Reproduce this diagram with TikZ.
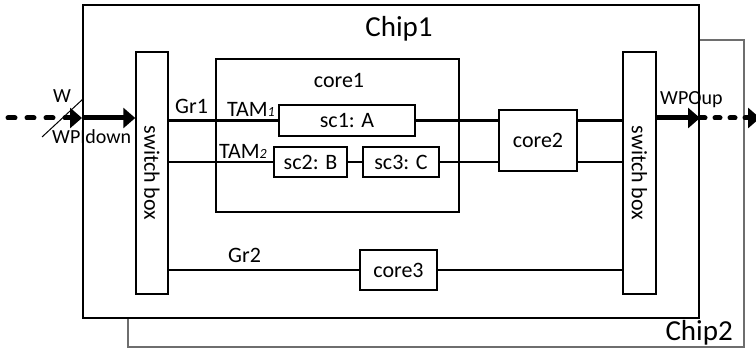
\documentclass[tikz,border=0pt]{standalone}
\usepackage{fontspec}
\setmainfont{Carlito}
\usetikzlibrary{arrows.meta}
\definecolor{chipgray}{RGB}{110,110,110}
\tikzset{
  boxsty/.style={draw=black, line width=1.5pt, fill=white, inner sep=0pt, rectangle},
  chipone/.style={draw=black, line width=2pt, fill=white, inner sep=0pt, rectangle},
  chiptwo/.style={draw=chipgray, line width=2pt, fill=white, inner sep=0pt, rectangle},
  wire/.style={line width=2.4pt, line cap=rect},
  txt/.style={inner sep=0pt, font=\fontsize{22}{26}\selectfont},
  bigtxt/.style={inner sep=0pt, font=\fontsize{29}{33}\selectfont},
  smalltxt/.style={inner sep=0pt, font=\fontsize{20}{24}\selectfont},
  fatarrow/.style={line width=5pt, -{Triangle[length=12pt,width=20pt]}},
  dasharrow/.style={line width=5pt, line cap=round, -{Triangle[length=12pt,width=20pt]}},
}
\begin{document}
\begin{tikzpicture}[x=1pt, y=-1pt]
\useasboundingbox (0,0) rectangle (756,352);
% chips
\node[chiptwo, minimum width=616pt, minimum height=307pt] (chip2) at (436,193.5) {};
\node[chipone, minimum width=616pt, minimum height=313pt] (chip1) at (391,161.5) {};
\node[bigtxt, anchor=base] (chip1lbl) at (399,37) {Chip1};
\node[bigtxt, anchor=base east] (chip2lbl) at (733,341) {Chip2};
% switch boxes
\node[boxsty, minimum width=32pt, minimum height=242pt] (sw1) at (152,173) {};
\node[boxsty, minimum width=33pt, minimum height=242pt] (sw2) at (639.5,173) {};
\node[txt, rotate=-90] (sw1lbl) at (sw1.center) {switch box};
\node[txt, rotate=-90] (sw2lbl) at (sw2.center) {switch box};
% core1
\node[boxsty, minimum width=243pt, minimum height=153pt] (core1) at (337.5,135.5) {};
\node[txt, anchor=base] (core1lbl) at (339,88) {core1};
% inner boxes
\node[boxsty, minimum width=136pt, minimum height=31pt] (sc1) at (347,120.5) {};
\node[boxsty, minimum width=73pt, minimum height=30pt] (sc2) at (310.5,162) {};
\node[boxsty, minimum width=76pt, minimum height=30pt] (sc3) at (401,162) {};
\node[boxsty, minimum width=78pt, minimum height=61pt] (core2) at (538,140.5) {};
\node[boxsty, minimum width=77pt, minimum height=40pt] (core3) at (398.5,270) {};
% wires
\draw[wire] (sw1.east |- sc1.west) -- (sc1.west);
\draw[wire] (sc1.east) -- (sc1.east -| core2.west);
\draw[wire] (core2.east |- sc1.east) -- (sw2.west |- sc1.east);
\draw[wire] (sw1.east |- sc2.west) -- (sc2.west);
\draw[wire] (sc2.east) -- (sc3.west);
\draw[wire] (sc3.east) -- (sc3.east -| core2.west);
\draw[wire] (core2.east |- sc3.east) -- (sw2.west |- sc3.east);
\draw[wire] (sw1.east |- core3.west) -- (core3.west);
\draw[wire] (core3.east) -- (sw2.west |- core3.east);
% inner box texts
\node[txt] (sc1t) at (sc1.center) {sc1: A};
\node[txt] (sc2t) at (sc2.center) {sc2: B};
\node[txt] (sc3t) at (sc3.center) {sc3: C};
\node[txt] (core2t) at (core2.center) {core2};
\node[txt] (core3t) at (core3.center) {core3};
% labels
\node[txt, anchor=base west] (gr1) at (175,114) {Gr1};
\node[txt, anchor=base west] (tam1) at (227,117) {TAM{\fontsize{14}{16}\selectfont\itshape 1}};
\node[txt, anchor=base west] (tam2) at (219,159) {TAM{\fontsize{14}{16}\selectfont\itshape 2}};
\node[txt, anchor=base west] (gr2) at (228,263) {Gr2};
% input arrows
\coordinate (inL) at (8,118);
\coordinate (outR) at (760,118);
\draw[dasharrow, dash pattern=on 7pt off 12pt] (inL) -- (inL -| chip1.west);
\draw[fatarrow] (inL -| chip1.west) -- (inL -| sw1.west);
\coordinate (slashA) at (42,137);
\coordinate (slashB) at (83,99);
\draw[line width=1pt] (slashA) -- (slashB);
\node[smalltxt, anchor=base west] (wlbl) at (53,103) {W};
\node[smalltxt, anchor=base west] (wpid) at (52,144) {WPIdown};
% output arrows
\draw[fatarrow] (outR -| sw2.east) -- (outR -| chip1.east);
\draw[dasharrow, dash pattern=on 5pt off 10pt] (outR -| chip1.east) -- (outR);
\node[smalltxt, anchor=base west] (wpou) at (660,105) {WPOup};
\end{tikzpicture}
\end{document}
